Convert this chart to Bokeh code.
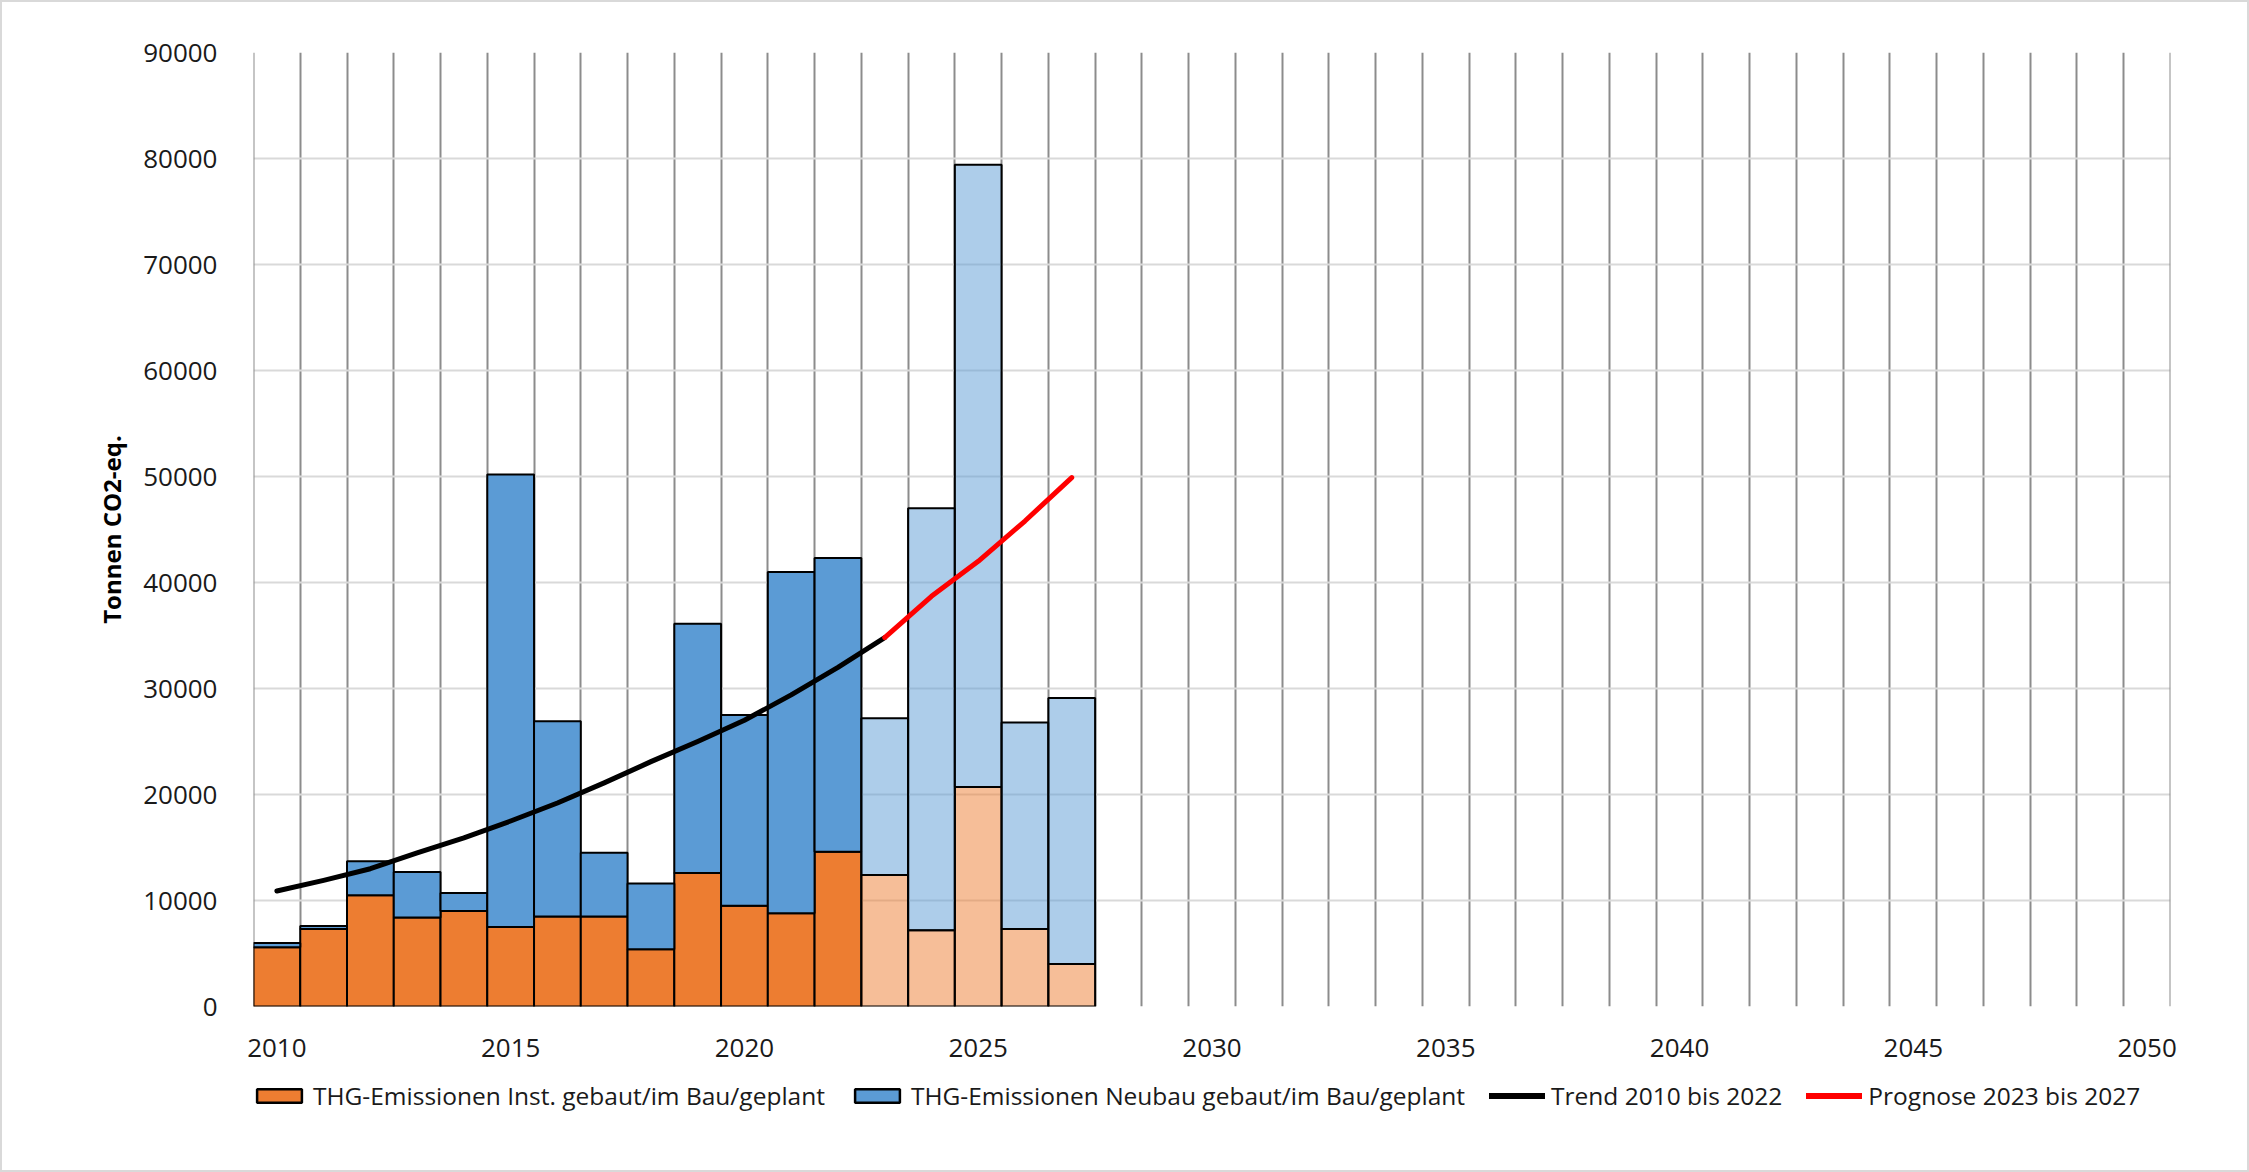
from bokeh.plotting import figure
from bokeh.models import (ColumnDataSource, Range1d, FixedTicker, Legend, LegendItem,
                          NumeralTickFormatter, Span)
from bokeh.layouts import column
from bokeh.embed import file_html
from bokeh.resources import INLINE

# ---- data ----
years = list(range(2010, 2028))
inst = [5600, 7300, 10500, 8400, 9000, 7500, 8500, 8500, 5400, 12600,
        9500, 8800, 14600, 12400, 7200, 20700, 7300, 4000]
neubau = [400, 300, 3200, 4300, 1700, 42700, 18400, 6000, 6200, 23500,
          18000, 32200, 27700, 14800, 39800, 58700, 19500, 25100]
planned_from = 2023  # bars from this year on are drawn pale (planned)

trend_years = list(range(2010, 2024))
trend = [10900, 11900, 13000, 14500, 15900, 17500, 19200, 21100, 23100,
         25000, 27000, 29400, 32000, 34800]
prog_years = [2023, 2024, 2025, 2026, 2027]
prognose = [34800, 38700, 42000, 45800, 49900]

x_ticks = [2010, 2015, 2020, 2025, 2030, 2035, 2040, 2045, 2050]
y_ticks = [0, 10000, 20000, 30000, 40000, 50000, 60000, 70000, 80000, 90000]

label_inst = "THG-Emissionen Inst. gebaut/im Bau/geplant"
label_neu = "THG-Emissionen Neubau gebaut/im Bau/geplant"
label_trend = "Trend 2010 bis 2022"
label_prog = "Prognose 2023 bis 2027"
y_label = "Tonnen CO2-eq."

ORANGE = "#ED7D31"
BLUE = "#5B9BD5"
RED = "#FF0000"
FONT = "Open Sans"
X0, X1 = 2009.5, 2050.5
NAN = float("nan")


def make_src(sel):
    xs = [y for y in years if sel(y)]
    i0 = [inst[years.index(y)] for y in xs]
    nb = [neubau[years.index(y)] for y in xs]
    top = [a + b for a, b in zip(i0, nb)]
    return ColumnDataSource(dict(x=xs, inst=i0, top=top))


src_done = make_src(lambda y: y < planned_from)
src_plan = make_src(lambda y: y >= planned_from)

p = figure(frame_width=1917, frame_height=954, output_backend="svg", toolbar_location=None,
           x_range=Range1d(X0, X1), y_range=Range1d(0, 90000),
           min_border_left=251, min_border_right=77, min_border_top=50,
           min_border_bottom=64)
p.outline_line_color = None
p.background_fill_color = "white"
p.border_fill_color = "white"

# grids
p.ygrid.ticker = FixedTicker(ticks=y_ticks)
p.ygrid.grid_line_color = "#D9D9D9"
p.ygrid.grid_line_width = 2
p.xgrid.ticker = FixedTicker(ticks=[X0 + i for i in range(42)])
p.xgrid.grid_line_color = "#8C8C8C"
p.xgrid.grid_line_width = 2
for loc in (X0, X1):
    p.add_layout(Span(location=loc, dimension="height", line_color="#8C8C8C",
                      line_width=2, level="underlay"))

# axes
p.xaxis.ticker = FixedTicker(ticks=x_ticks)
p.yaxis.ticker = FixedTicker(ticks=y_ticks)
p.yaxis.formatter = NumeralTickFormatter(format="0")
for ax in (p.xaxis[0], p.yaxis[0]):
    ax.axis_line_color = None
    ax.major_tick_line_color = None
    ax.minor_tick_line_color = None
    ax.major_label_text_font = FONT
    ax.major_label_text_font_size = "26px"
    ax.major_label_text_color = "#1a1a1a"
p.xaxis.major_label_standoff = 26
p.yaxis.major_label_standoff = 30
p.yaxis.axis_label = y_label
p.yaxis.axis_label_text_font = FONT
p.yaxis.axis_label_text_font_style = "bold"
p.yaxis.axis_label_text_font_size = "24px"
p.yaxis.axis_label_text_color = "#000000"
p.yaxis.axis_label_standoff = 12

# bars
p.vbar(x="x", bottom=0, top="inst", width=1, source=src_done,
       fill_color=ORANGE, line_color="black", line_width=2)
p.vbar(x="x", bottom="inst", top="top", width=1, source=src_done,
       fill_color=BLUE, line_color="black", line_width=2)
p.vbar(x="x", bottom=0, top="inst", width=1, source=src_plan,
       fill_color=ORANGE, fill_alpha=0.5, line_color="black", line_width=2)
p.vbar(x="x", bottom="inst", top="top", width=1, source=src_plan,
       fill_color=BLUE, fill_alpha=0.5, line_color="black", line_width=2)

# trend lines
p.line(trend_years, trend, line_color="black", line_width=5,
       line_cap="round", line_join="round")
p.line(prog_years, prognose, line_color=RED, line_width=5,
       line_cap="round", line_join="round")

# ---- legend strip (separate figure below the chart) ----
lg = figure(width=2245, height=100, output_backend="svg", toolbar_location=None,
            x_range=Range1d(0, 1), y_range=Range1d(0, 1),
            min_border_left=0, min_border_right=0, min_border_top=0,
            min_border_bottom=0)
lg.axis.visible = False
lg.grid.visible = False
lg.outline_line_color = None
lg.border_fill_color = "white"
# stand-in renderers with no drawable data; they only supply legend swatches
l_inst = lg.vbar(x=[NAN], top=[NAN], width=1, fill_color=ORANGE, line_color="black", line_width=2.5)
l_neu = lg.vbar(x=[NAN], top=[NAN], width=1, fill_color=BLUE, line_color="black", line_width=2.5)
l_trend = lg.line(x=[NAN], y=[NAN], line_color="black", line_width=6, line_cap="round")
l_prog = lg.line(x=[NAN], y=[NAN], line_color=RED, line_width=6, line_cap="round")

legend = Legend(items=[LegendItem(label=label_inst, renderers=[l_inst]),
                       LegendItem(label=label_neu, renderers=[l_neu]),
                       LegendItem(label=label_trend, renderers=[l_trend]),
                       LegendItem(label=label_prog, renderers=[l_prog])],
                orientation="horizontal", location=(-2, 58),
                label_text_font=FONT, label_text_font_size="24.5px",
                label_text_color="#1a1a1a", label_text_baseline="middle",
                glyph_width=56, glyph_height=17, spacing=24, label_standoff=6,
                padding=2, margin=0, border_line_color=None,
                background_fill_alpha=0)
lg.add_layout(legend, "center")

layout = column(p, lg, spacing=0)
layout.styles = {"border": "2px solid #D9D9D9"}
open("out.html", "w").write(file_html(layout, INLINE))
